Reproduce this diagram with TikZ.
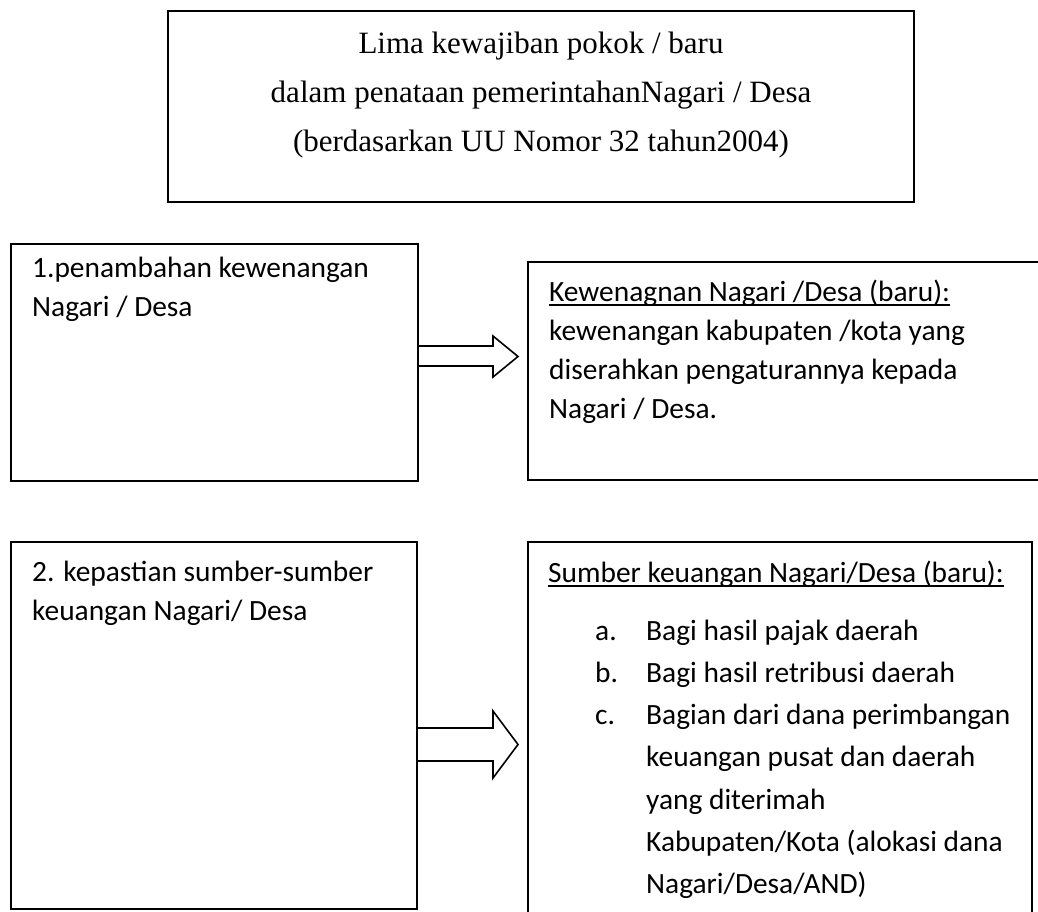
\documentclass[tikz,border=0pt]{standalone}
\usepackage{fontspec}
\setmainfont{Carlito}
\newfontfamily\tnr{Liberation Serif}
\begin{document}
\begin{tikzpicture}[x=1pt,y=-1pt,
  box/.style={draw, line width=1.6pt, rectangle, inner sep=0pt, outer sep=0pt},
  txt/.style={anchor=base west, inner sep=0pt, font=\fontsize{29.4pt}{37.5pt}\selectfont},
  ttl/.style={anchor=base, inner sep=0pt, font=\tnr\fontsize{31pt}{40pt}\selectfont},
  blk/.style={draw, line width=1.6pt, fill=white, line join=miter},
  uline/.style={line width=1.8pt}]
\useasboundingbox (0,0) rectangle (1038,911);
\clip (0,0) rectangle (1038,911);
% boxes
\node[box, line width=2pt, minimum width=746pt, minimum height=191pt] (T) at (541,106.5) {};
\node[box, minimum width=407pt, minimum height=237pt] (L1) at (214.5,362.5) {};
\node[box, minimum width=520pt, minimum height=218pt] (R1) at (788,371) {};
\node[box, minimum width=406pt, minimum height=367pt] (L2) at (214,725.5) {};
\node[box, minimum width=504pt, minimum height=388pt] (R2) at (780,736) {};
% title
\node[ttl] (t1) at (541,53) {Lima kewajiban pokok / baru};
\node[ttl] (t2) at (541,102) {dalam penataan pemerintahanNagari / Desa};
\node[ttl] (t3) at (541,151) {(berdasarkan UU Nomor 32 tahun2004)};
% left box 1
\node[txt] (l11) at (32,277) {1.penambahan kewenangan};
\node[txt] (l12) at (32,316) {Nagari / Desa};
% right box 1
\node[txt] (r11) at (549,301) {Kewenagnan Nagari /Desa (baru):};
\draw[uline] ([yshift=-4pt]r11.base west) -- ([yshift=-4pt]r11.base east);
\node[txt] (r12) at (549,340) {kewenangan kabupaten /kota yang};
\node[txt] (r13) at (549,379) {diserahkan pengaturannya kepada};
\node[txt] (r14) at (549,418) {Nagari / Desa.};
% left box 2
\node[txt] (l21) at (32,581) {2. kepastian sumber-sumber};
\node[txt] (l22) at (32,620) {keuangan Nagari/ Desa};
% right box 2
\node[txt] (r21) at (548,582) {Sumber keuangan Nagari/Desa (baru):};
\draw[uline] ([yshift=-4pt]r21.base west) -- ([yshift=-4pt]r21.base east);
\node[txt] (ma) at (595,640) {a.};
\node[txt] (ia) at (646,640) {Bagi hasil pajak daerah};
\node[txt] (mb) at (595,682.3) {b.};
\node[txt] (ib) at (646,682.3) {Bagi hasil retribusi daerah};
\node[txt] (mc) at (595,724.6) {c.};
\node[txt] (ic1) at (646,724.6) {Bagian dari dana perimbangan};
\node[txt] (ic2) at (646,766.9) {keuangan pusat dan daerah};
\node[txt] (ic3) at (646,809.2) {yang diterimah};
\node[txt] (ic4) at (646,851.5) {Kabupaten/Kota (alokasi dana};
\node[txt] (ic5) at (646,893.8) {Nagari/Desa/AND)};
% block arrows
\draw[blk] (L1.east |- 0,346) -- (493,346) -- (493,336) -- (518,356.5) -- (493,377) -- (493,366) -- (L1.east |- 0,366) -- cycle;
\draw[blk] (L2.east |- 0,728) -- (493,728) -- (493,711) -- (518,744.5) -- (493,778) -- (493,761) -- (L2.east |- 0,761) -- cycle;
\end{tikzpicture}
\end{document}
